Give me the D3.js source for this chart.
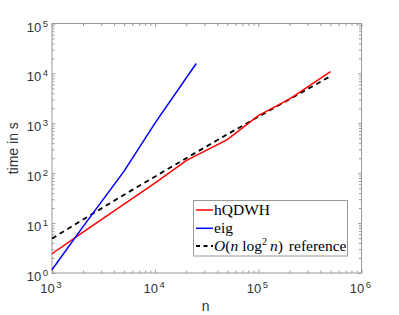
<!DOCTYPE html>
<html>
<head>
<meta charset="utf-8">
<script src="https://cdn.jsdelivr.net/npm/d3@7"></script>
<style>
  body { margin: 0; background: #fff; }
  svg { display: block; }
</style>
</head>
<body>
<div id="chart"></div>
<script>
// data
let nQDWH = [1000, 2000, 5000, 10000, 20000, 50000, 100000, 200000, 500000];
let tQDWH = [2.43, 6.6, 24, 64, 178, 470, 1420, 3050, 10800];

let nEig = [1000, 2000, 5000, 10000, 25000];
let tEig = [1.16, 8.5, 110, 1020, 15800];

let nRef = [1000, 2000, 5000, 10000, 20000, 50000, 100000, 200000, 500000];
let tRef = [4.9, 11.8, 37, 86, 200, 600, 1350, 3030, 8770];

let xMajor = [1e3, 1e4, 1e5, 1e6];
let yMajor = [1e0, 1e1, 1e2, 1e3, 1e4, 1e5];

let width = 399, height = 315;
let margin = {top: 23.5, right: 37.5, bottom: 42, left: 52};

let svg = d3.select("#chart")
  .append("svg")
    .attr("width", width)
    .attr("height", height);

let x = d3.scaleLog()
  .domain([1e3, 1e6])
  .range([margin.left, width - margin.right]);

let y = d3.scaleLog()
  .domain([1, 1e5])
  .range([height - margin.bottom, margin.top]);

let axisColor = "#9a9a9a";
let textColor = "#333";

// minor ticks 2..9 in every decade
function minors(lo, hi) {
  let out = [];
  for (let d = lo; d < hi; d *= 10)
    for (let k = 2; k < 10; k++) out.push(d * k);
  return out;
}
let xMinor = minors(1e3, 1e6);
let yMinor = minors(1, 1e5);

function drawAxis(axis, transform, values, size) {
  let g = svg.append("g")
    .attr("transform", transform)
    .call(axis.tickValues(values).tickSize(size).tickSizeOuter(0).tickFormat(""));
  g.selectAll("path").remove();
  g.selectAll("line").attr("stroke", axisColor);
}

let x0 = height - margin.bottom, x1 = margin.top;
let y0 = margin.left, y1 = width - margin.right;

drawAxis(d3.axisBottom(x), "translate(0," + x0 + ")", xMinor, -2.5);
drawAxis(d3.axisBottom(x), "translate(0," + x0 + ")", xMajor, -3.5);
drawAxis(d3.axisTop(x), "translate(0," + x1 + ")", xMinor, -2.5);
drawAxis(d3.axisTop(x), "translate(0," + x1 + ")", xMajor, -3.5);
drawAxis(d3.axisLeft(y), "translate(" + y0 + ",0)", yMinor, -2.5);
drawAxis(d3.axisLeft(y), "translate(" + y0 + ",0)", yMajor, -3.5);
drawAxis(d3.axisRight(y), "translate(" + y1 + ",0)", yMinor, -2.5);
drawAxis(d3.axisRight(y), "translate(" + y1 + ",0)", yMajor, -3.5);

// box
svg.append("rect")
  .attr("x", y0).attr("y", x1)
  .attr("width", y1 - y0).attr("height", x0 - x1)
  .attr("fill", "none")
  .attr("stroke", axisColor)
  .attr("stroke-width", 1);

// tick labels 10^k
function powLabel(sel) {
  sel.append("tspan").text("10");
  sel.append("tspan")
    .attr("dy", -5)
    .attr("dx", 1.5)
    .attr("font-size", "9.5px")
    .text(d => Math.round(Math.log10(d)));
}

svg.append("g").selectAll("text")
  .data(xMajor)
  .enter()
  .append("text")
    .attr("x", d => x(d) - 1)
    .attr("y", x0 + 20)
    .attr("text-anchor", "middle")
    .attr("font-family", "Liberation Sans, Arial, sans-serif")
    .attr("font-size", "13px")
    .attr("fill", textColor)
    .call(powLabel);

svg.append("g").selectAll("text")
  .data(yMajor)
  .enter()
  .append("text")
    .attr("x", y0 - 4)
    .attr("y", d => y(d) + 8)
    .attr("text-anchor", "end")
    .attr("font-family", "Liberation Sans, Arial, sans-serif")
    .attr("font-size", "13px")
    .attr("fill", textColor)
    .call(powLabel);

// axis titles
svg.append("text")
  .attr("x", (y0 + y1) / 2 - 1)
  .attr("y", 311)
  .attr("text-anchor", "middle")
  .attr("font-family", "Liberation Sans, Arial, sans-serif")
  .attr("font-size", "14px")
  .attr("fill", textColor)
  .text("n");

svg.append("text")
  .attr("transform", "translate(18," + ((x0 + x1) / 2) + ") rotate(-90)")
  .attr("text-anchor", "middle")
  .attr("font-family", "Liberation Sans, Arial, sans-serif")
  .attr("font-size", "14px")
  .attr("fill", textColor)
  .text("time in s");

// lines
let line = d3.line()
  .x(d => x(d[0]))
  .y(d => y(d[1]));

let plot = svg.append("g");

plot.append("path")
  .datum(d3.zip(nRef, tRef))
  .attr("d", line)
  .attr("fill", "none")
  .attr("stroke", "#000")
  .attr("stroke-width", 1.8)
  .attr("stroke-dasharray", "5,4");

plot.append("path")
  .datum(d3.zip(nQDWH, tQDWH))
  .attr("d", line)
  .attr("fill", "none")
  .attr("stroke", "#ff0000")
  .attr("stroke-width", 1.5);

plot.append("path")
  .datum(d3.zip(nEig, tEig))
  .attr("d", line)
  .attr("fill", "none")
  .attr("stroke", "#0000ff")
  .attr("stroke-width", 1.5);

// legend
let legend = svg.append("g");
legend.append("rect")
  .attr("x", 193.5).attr("y", 200.5)
  .attr("width", 154).attr("height", 55.5)
  .attr("fill", "#fff")
  .attr("stroke", "#999")
  .attr("stroke-width", 1);

let items = [
  {color: "#ff0000", dash: null},
  {color: "#0000ff", dash: null},
  {color: "#000", dash: "4,3.5"}
];
let rowsY = [210, 228.3, 246];

legend.selectAll("line")
  .data(items)
  .enter()
  .append("line")
    .attr("x1", 196).attr("x2", 213)
    .attr("y1", (d, i) => rowsY[i]).attr("y2", (d, i) => rowsY[i])
    .attr("stroke", d => d.color)
    .attr("stroke-width", d => d.dash ? 1.8 : 1.5)
    .attr("stroke-dasharray", d => d.dash);

let serif = "Liberation Serif, Times New Roman, serif";

legend.append("text")
  .attr("x", 214).attr("y", rowsY[0] + 5)
  .attr("font-family", serif).attr("font-size", "15.5px").attr("fill", "#000")
  .text("hQDWH");

legend.append("text")
  .attr("x", 214).attr("y", rowsY[1] + 5)
  .attr("font-family", serif).attr("font-size", "15.5px").attr("fill", "#000")
  .text("eig");

let ref = legend.append("text")
  .attr("x", 214).attr("y", rowsY[2] + 5)
  .attr("font-family", serif).attr("font-size", "15.5px").attr("fill", "#000");
ref.append("tspan").attr("font-style", "italic").text("O");
ref.append("tspan").text("(");
ref.append("tspan").attr("font-style", "italic").text("n");
ref.append("tspan").attr("dx", 4).text("log");
ref.append("tspan").attr("dy", -6).attr("font-size", "10px").text("2");
ref.append("tspan").attr("dy", 6).attr("dx", 3).attr("font-style", "italic").text("n");
ref.append("tspan").text(")");
ref.append("tspan").attr("dx", 6).text("reference");
</script>
</body>
</html>
